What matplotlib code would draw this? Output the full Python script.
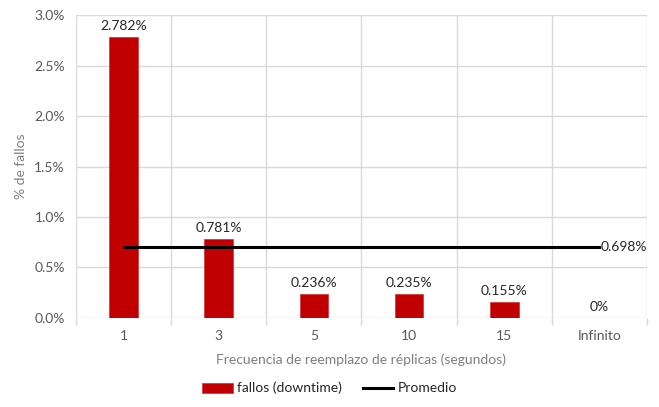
import matplotlib
matplotlib.use("Agg")
import matplotlib.pyplot as plt
from matplotlib.ticker import FuncFormatter, FixedLocator

categories = ["1", "3", "5", "10", "15", "Infinito"]
fallos = [2.782, 0.781, 0.236, 0.235, 0.155, 0.0]
labels = ["2.782%", "0.781%", "0.236%", "0.235%", "0.155%", "0%"]
promedio = 0.698
promedio_label = "0.698%"

plt.rcParams['font.family'] = ['Lato', 'DejaVu Sans']
FS = 10

fig = plt.figure(figsize=(6.59, 4.07), dpi=100)
ax = fig.add_axes([0.1153, 0.2187, 0.8665, 0.7444])

x = list(range(len(categories)))
bars = ax.bar(x, fallos, width=0.3, color="#C00000", edgecolor="#D03030", linewidth=0.5,
              label="fallos (downtime)", zorder=3)
line, = ax.plot([x[0], x[-1]], [promedio, promedio], color="black", linewidth=2.2,
                label="Promedio", zorder=4)

for xi, v, lab in zip(x, fallos, labels):
    ax.text(xi, v + 0.05, lab, ha="center", va="bottom", fontsize=FS, color="#262626")
ax.text(x[-1] + 0.01, promedio, promedio_label, ha="left", va="center", fontsize=FS,
        color="#262626")

ax.set_xlim(-0.5, len(categories) - 0.5)
ax.set_ylim(0, 3.0)
ax.set_yticks([0, 0.5, 1.0, 1.5, 2.0, 2.5, 3.0])
ax.yaxis.set_major_formatter(FuncFormatter(lambda v, p: f"{v:.1f}%"))
ax.set_xticks(x)
ax.set_xticklabels(categories)
ax.xaxis.set_minor_locator(FixedLocator([i - 0.5 for i in range(len(categories) + 1)]))

ax.tick_params(axis="both", which="major", length=0, labelsize=FS, colors="#595959")
ax.tick_params(axis="x", which="major", pad=9)
ax.tick_params(axis="y", which="major", pad=8)
ax.tick_params(axis="x", which="minor", length=5, color="#D9D9D9", width=1)

ax.grid(axis="y", which="major", color="#D9D9D9", linewidth=1, zorder=0)
ax.grid(axis="x", which="minor", color="#D9D9D9", linewidth=1, zorder=0)
for s in ax.spines.values():
    s.set_visible(False)

ax.set_xlabel("Frecuencia de reemplazo de réplicas (segundos)", fontsize=FS,
              color="#7F7F7F", labelpad=8)
ax.set_ylabel("% de fallos", fontsize=FS, color="#7F7F7F", labelpad=5)

fig.legend(handles=[bars, line], loc="lower center", bbox_to_anchor=(0.5, 0.0), ncol=2,
           frameon=False, fontsize=FS, handlelength=2.2, handletextpad=0.3,
           columnspacing=1.5, labelcolor="#262626")

fig.savefig("out.png", dpi=100)
